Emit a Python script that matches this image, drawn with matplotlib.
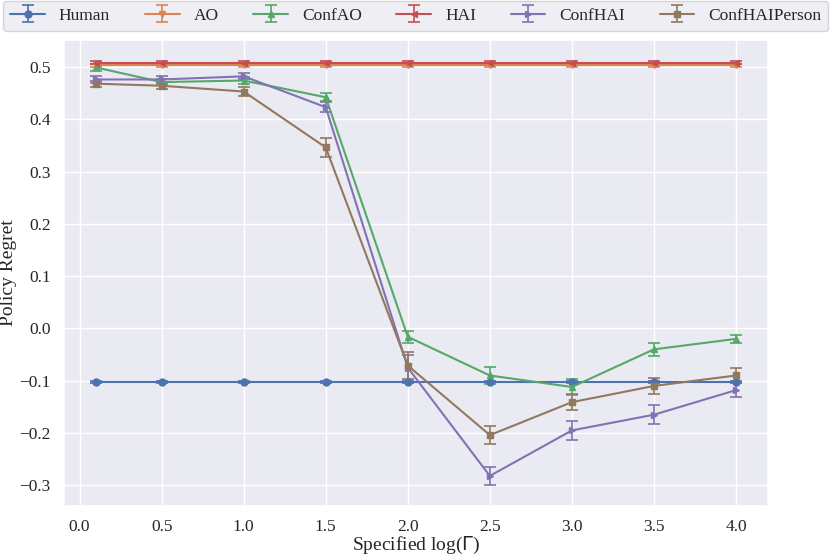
import matplotlib
matplotlib.use("Agg")
import matplotlib.pyplot as plt
import numpy as np
import seaborn as sns

# Data
gammas = [0.1, 0.5, 1.0, 1.5, 2.0, 2.5, 3.0, 3.5, 4.0]

human = [-0.103] * 9
human_err = [0.002] * 9

ao = [0.503] * 9
ao_err = [0.003] * 9

hai = [0.508] * 9
hai_err = [0.003] * 9

conf_ao = [0.499, 0.471, 0.474, 0.442, -0.016, -0.090, -0.112, -0.040, -0.020]
conf_ao_err = [0.006, 0.005, 0.006, 0.008, 0.011, 0.016, 0.016, 0.012, 0.007]

conf_hai = [0.476, 0.476, 0.482, 0.423, -0.075, -0.282, -0.195, -0.165, -0.118]
conf_hai_err = [0.006, 0.006, 0.006, 0.009, 0.025, 0.017, 0.018, 0.018, 0.013]

conf_hai_person = [0.468, 0.464, 0.453, 0.346, -0.071, -0.204, -0.141, -0.110, -0.090]
conf_hai_person_err = [0.006, 0.006, 0.008, 0.019, 0.025, 0.017, 0.015, 0.015, 0.015]

series = [
    ("Human", human, human_err, "o"),
    ("AO", ao, ao_err, "v"),
    ("ConfAO", conf_ao, conf_ao_err, "^"),
    ("HAI", hai, hai_err, "<"),
    ("ConfHAI", conf_hai, conf_hai_err, ">"),
    ("ConfHAIPerson", conf_hai_person, conf_hai_person_err, "s"),
]

sns.set_theme(style="darkgrid", palette="deep")
plt.rcParams["font.family"] = ["Liberation Serif", "DejaVu Serif"]
plt.rcParams["mathtext.fontset"] = "dejavusans"

fig = plt.figure(figsize=(8.3, 5.57), dpi=100)
ax = fig.add_axes([0.0771, 0.0916, 0.9253 - 0.0771, 0.9282 - 0.0916])

colors = sns.color_palette("deep")
for i, (name, vals, errs, mk) in enumerate(series):
    ax.errorbar(gammas, vals, yerr=errs, label=name, marker=mk,
                color=colors[i], markersize=5, linewidth=1.5,
                capsize=4, elinewidth=1.2, capthick=1.2)

ax.set_xticks([0.0, 0.5, 1.0, 1.5, 2.0, 2.5, 3.0, 3.5, 4.0])
ax.tick_params(labelsize=12.5)
ax.set_xlabel(r"Specified log($\Gamma$)", fontsize=14, labelpad=0)
ax.set_ylabel("Policy Regret", fontsize=14, labelpad=2)

fig.legend(loc="lower left", bbox_to_anchor=(0.004, 0.945, 0.994, 0.05),
           mode="expand", ncol=6, fontsize=12.5, frameon=True,
           borderaxespad=0.0, handlelength=2.0)

plt.savefig("out.png", dpi=100)
